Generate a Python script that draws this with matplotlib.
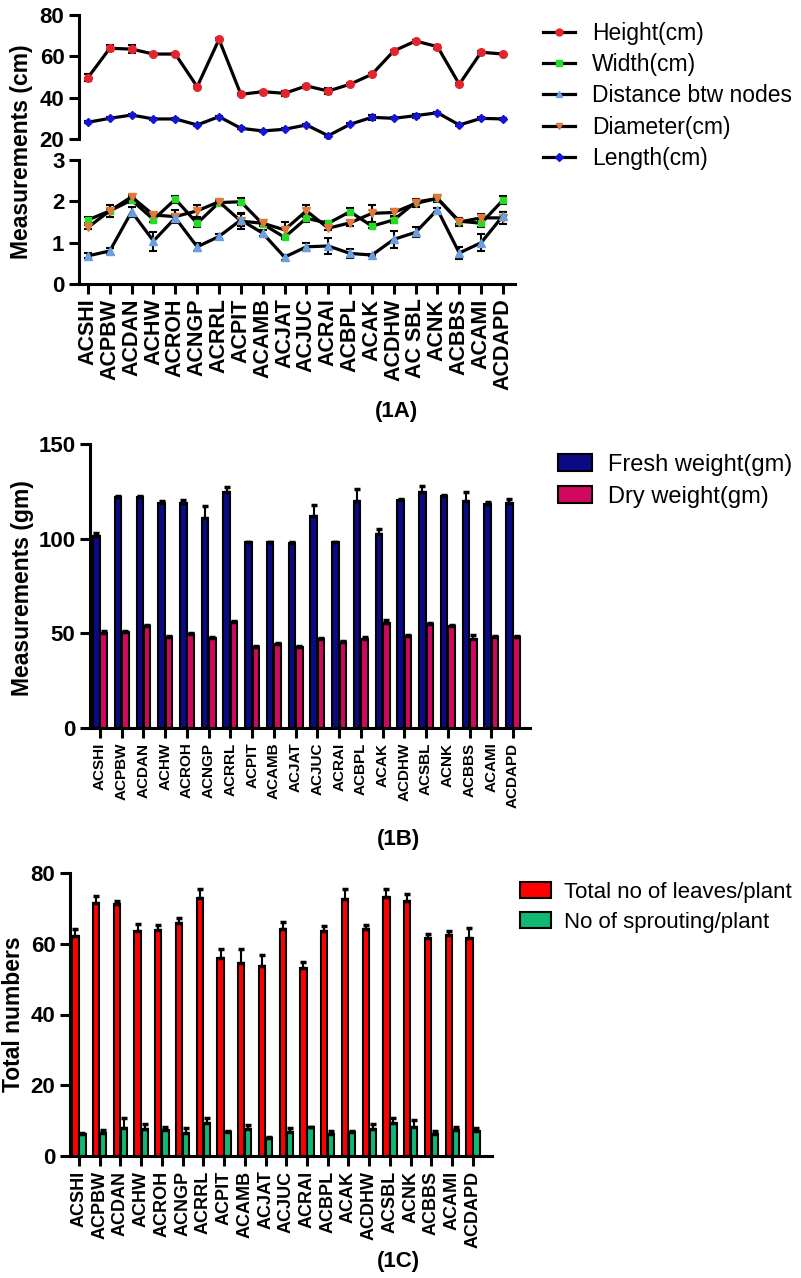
import matplotlib
matplotlib.use("Agg")
import matplotlib.pyplot as plt
import numpy as np
from matplotlib.lines import Line2D
from matplotlib.patches import Patch

plt.rcParams['font.family'] = ['Liberation Sans', 'DejaVu Sans']

# ---- data ----
labels_a = ['ACSHI', 'ACPBW', 'ACDAN', 'ACHW', 'ACROH', 'ACNGP', 'ACRRL', 'ACPIT', 'ACAMB', 'ACJAT',
            'ACJUC', 'ACRAI', 'ACBPL', 'ACAK', 'ACDHW', 'AC SBL', 'ACNK', 'ACBBS', 'ACAMI', 'ACDAPD']
labels_bc = ['ACSHI', 'ACPBW', 'ACDAN', 'ACHW', 'ACROH', 'ACNGP', 'ACRRL', 'ACPIT', 'ACAMB', 'ACJAT',
             'ACJUC', 'ACRAI', 'ACBPL', 'ACAK', 'ACDHW', 'ACSBL', 'ACNK', 'ACBBS', 'ACAMI', 'ACDAPD']

height = [49.7, 63.9, 63.5, 61.1, 61.1, 45.3, 68.2, 41.6, 42.9, 42.1,
          45.7, 43.2, 46.5, 51.3, 62.6, 67.4, 64.7, 46.5, 62.0, 61.1]
height_err = [1.8, 1.5, 1.8, 0.5, 0.5, 0.5, 0.5, 0.5, 0.5, 1.2,
              0.5, 1.3, 0.5, 0.5, 0.5, 0.5, 1.0, 0.5, 0.5, 0.5]
length = [28.1, 30.0, 31.6, 29.7, 29.7, 26.8, 30.8, 25.2, 23.9, 24.7,
          26.8, 21.6, 27.1, 30.5, 30.0, 31.3, 32.7, 26.8, 30.0, 29.7]
length_err = [0.5, 0.5, 0.5, 0.5, 0.5, 0.5, 0.5, 0.5, 0.5, 0.5,
              0.5, 0.5, 0.5, 1.2, 0.5, 1.0, 0.5, 0.5, 0.5, 0.5]
width = [1.55, 1.77, 2.03, 1.56, 2.05, 1.47, 1.97, 1.99, 1.45, 1.13,
         1.59, 1.47, 1.75, 1.40, 1.55, 1.98, 2.07, 1.52, 1.47, 2.03]
width_err = [0.08, 0.05, 0.08, 0.06, 0.08, 0.10, 0.05, 0.08, 0.05, 0.05,
             0.08, 0.05, 0.08, 0.05, 0.08, 0.08, 0.06, 0.08, 0.08, 0.10]
diameter = [1.37, 1.77, 2.11, 1.67, 1.63, 1.77, 1.99, 1.52, 1.47, 1.31,
            1.77, 1.35, 1.48, 1.71, 1.73, 1.95, 2.07, 1.50, 1.60, 1.60]
diameter_err = [0.05, 0.15, 0.05, 0.05, 0.15, 0.15, 0.05, 0.20, 0.05, 0.18,
                0.15, 0.05, 0.08, 0.20, 0.08, 0.08, 0.08, 0.10, 0.10, 0.15]
distance = [0.68, 0.80, 1.75, 1.04, 1.60, 0.90, 1.15, 1.55, 1.23, 0.65,
            0.90, 0.92, 0.74, 0.70, 1.08, 1.25, 1.80, 0.75, 1.00, 1.65]
distance_err = [0.06, 0.08, 0.12, 0.23, 0.10, 0.10, 0.06, 0.15, 0.08, 0.06,
                0.10, 0.20, 0.10, 0.03, 0.20, 0.12, 0.05, 0.15, 0.20, 0.10]

fresh = [101.4, 122.2, 122.2, 119.0, 118.7, 111.1, 124.5, 98.1, 98.1, 97.7,
         112.0, 98.1, 120.1, 102.3, 120.4, 124.8, 122.7, 119.9, 118.3, 118.7]
fresh_err = [1.5, 0.5, 0.5, 1.0, 1.5, 6.0, 3.0, 0.3, 0.3, 0.8,
             6.0, 0.3, 6.0, 3.0, 0.5, 3.0, 0.5, 5.0, 1.0, 2.0]
dry = [50.0, 50.9, 53.9, 48.2, 49.7, 47.3, 56.0, 43.0, 44.2, 42.6,
       47.0, 45.4, 46.8, 55.3, 48.8, 54.7, 54.1, 47.0, 48.2, 48.2]
dry_err = [1.0, 0.5, 0.5, 0.5, 0.5, 0.5, 0.5, 0.5, 0.5, 0.5,
           0.5, 0.5, 1.5, 1.5, 0.5, 0.5, 0.5, 2.0, 0.5, 0.5]

leaves = [62.2, 71.6, 71.1, 63.6, 63.9, 65.8, 72.8, 55.9, 54.5, 53.8,
          64.2, 53.2, 63.6, 72.6, 64.2, 73.1, 72.1, 61.7, 62.5, 61.5]
leaves_err = [2.0, 2.0, 1.0, 2.0, 1.5, 1.5, 2.8, 2.5, 4.0, 3.0,
              2.0, 1.5, 1.5, 3.0, 1.0, 2.5, 2.0, 1.0, 1.0, 3.0]
sprout = [6.1, 6.4, 7.8, 7.6, 7.3, 6.6, 9.2, 6.9, 7.6, 5.0,
          6.7, 8.1, 6.2, 6.9, 7.6, 9.2, 8.3, 6.2, 7.3, 7.1]
sprout_err = [0.3, 1.0, 3.0, 1.5, 0.8, 1.2, 1.5, 0.3, 1.2, 0.3,
              1.2, 0.0, 1.0, 0.3, 1.5, 1.5, 1.8, 1.0, 1.0, 0.8]

W, H = 801, 1278
fig = plt.figure(figsize=(W / 100, H / 100), dpi=100)


def rect(l, t, r, b):
    return [l / W, 1 - b / H, (r - l) / W, (b - t) / H]


def style(ax, fs):
    for s in ['top', 'right']:
        ax.spines[s].set_visible(False)
    for s in ['left', 'bottom']:
        ax.spines[s].set_linewidth(2.2)
    ax.tick_params(direction='out', length=7, width=2.2, labelsize=fs)
    for t in ax.get_yticklabels():
        t.set_fontweight('bold')


x = np.arange(20)

# ---- 1A ----
ax_t = fig.add_axes(rect(79, 15, 515, 139))
ax_b = fig.add_axes(rect(79, 160, 515, 284))
ln = dict(color='black', lw=2.3, capsize=3, elinewidth=1.5, ecolor='black', capthick=1.5)
ax_t.errorbar(x, height, yerr=height_err, marker='o', ms=5.5, mfc='#e3262d', mec='#e3262d', **ln)
ax_t.errorbar(x, length, yerr=length_err, marker='D', ms=4.5, mfc='#1515d8', mec='#1515d8', **ln)
ax_b.errorbar(x, width, yerr=width_err, marker='s', ms=5, mfc='#22dd22', mec='#22dd22', **ln)
ax_b.errorbar(x, diameter, yerr=diameter_err, marker='v', ms=5.5, mfc='#e0793a', mec='#e0793a', **ln)
ax_b.errorbar(x, distance, yerr=distance_err, marker='^', ms=5.5, mfc='#6b9fe0', mec='#6b9fe0', **ln)

ax_t.set_ylim(20, 80)
ax_t.set_yticks([20, 40, 60, 80])
ax_t.set_xlim(-0.41, 19.55)
ax_t.spines['bottom'].set_visible(False)
ax_t.set_xticks([])
style(ax_t, 16)
ax_b.set_ylim(0, 3)
ax_b.set_yticks([0, 1, 2, 3])
ax_b.set_xlim(-0.41, 19.55)
ax_b.set_xticks(x)
ax_b.set_xticklabels(labels_a, rotation=90, fontweight='bold')
style(ax_b, 16)
ax_b.tick_params(axis='x', labelsize=15.5)
fig.text(22 / W, 1 - 152 / H, 'Measurements (cm)', rotation=90, ha='center', va='center',
         fontsize=16.5, fontweight='bold')

leg_a = [Line2D([], [], color='black', lw=2.3, marker='o', ms=5, mfc='#e3262d', mec='#e3262d'),
         Line2D([], [], color='black', lw=2.3, marker='s', ms=5, mfc='#22dd22', mec='#22dd22'),
         Line2D([], [], color='black', lw=2.3, marker='^', ms=5, mfc='#6b9fe0', mec='#6b9fe0'),
         Line2D([], [], color='black', lw=2.3, marker='v', ms=5, mfc='#e0793a', mec='#e0793a'),
         Line2D([], [], color='black', lw=2.3, marker='D', ms=4, mfc='#1515d8', mec='#1515d8')]
fig.legend(leg_a, ['Height(cm)', 'Width(cm)', 'Distance btw nodes', 'Diameter(cm)', 'Length(cm)'],
           loc='upper left', bbox_to_anchor=(543 / W, 1 - 22 / H), frameon=False, borderpad=0,
           borderaxespad=0, handlelength=1.4, handletextpad=0.75, labelspacing=0.36, fontsize=16.5)
fig.text(397 / W, 1 - 411 / H, '(1A)', ha='center', va='center', fontsize=16, fontweight='bold')

# ---- 1B ----
ax2 = fig.add_axes(rect(90, 444, 530, 728))
bw = 0.3
eb = dict(fmt='none', ecolor='black', elinewidth=1.5, capsize=2.5, capthick=2.5)
ax2.bar(x - bw / 2 - 0.02, fresh, bw, color='#0a0a84', edgecolor='black', lw=1.5)
ax2.bar(x + bw / 2 + 0.02, dry, bw, color='#d0085e', edgecolor='black', lw=1.5)
ax2.errorbar(x - bw / 2 - 0.02, fresh, yerr=[np.zeros(20), fresh_err], **eb)
ax2.errorbar(x + bw / 2 + 0.02, dry, yerr=[np.zeros(20), dry_err], **eb)
ax2.set_ylim(0, 150)
ax2.set_yticks([0, 50, 100, 150])
ax2.set_xlim(-0.46, 19.78)
ax2.set_xticks(x)
ax2.set_xticklabels(labels_bc, rotation=90, fontweight='bold')
style(ax2, 16)
ax2.tick_params(axis='x', labelsize=11)
fig.text(23 / W, 1 - 588 / H, 'Measurements (gm)', rotation=90, ha='center', va='center',
         fontsize=16.5, fontweight='bold')
ax2.legend([Patch(facecolor='#0a0a84', edgecolor='black', lw=1.5),
            Patch(facecolor='#d0085e', edgecolor='black', lw=1.5)],
           ['Fresh weight(gm)', 'Dry weight(gm)'],
           loc='upper left', bbox_to_anchor=(558 / W, 1 - 454 / H), bbox_transform=fig.transFigure,
           frameon=False, borderpad=0, borderaxespad=0, handlelength=1.45, handleheight=0.7,
           handletextpad=0.68, labelspacing=0.42, fontsize=17)
fig.text(398 / W, 1 - 840 / H, '(1B)', ha='center', va='center', fontsize=16, fontweight='bold')

# ---- 1C ----
ax3 = fig.add_axes(rect(70, 873, 492, 1156))
ax3.bar(x - bw / 2 - 0.02, leaves, bw, color='#ff0000', edgecolor='black', lw=1.5)
ax3.bar(x + bw / 2 + 0.02, sprout, bw, color='#10b872', edgecolor='black', lw=1.5)
ax3.errorbar(x - bw / 2 - 0.02, leaves, yerr=[np.zeros(20), leaves_err], **eb)
ax3.errorbar(x + bw / 2 + 0.02, sprout, yerr=[np.zeros(20), sprout_err], **eb)
ax3.set_ylim(0, 80)
ax3.set_yticks([0, 20, 40, 60, 80])
ax3.set_xlim(-0.43, 19.92)
ax3.set_xticks(x)
ax3.set_xticklabels(labels_bc, rotation=90, fontweight='bold')
style(ax3, 16)
ax3.tick_params(axis='x', labelsize=13)
fig.text(14 / W, 1 - 1014 / H, 'Total numbers', rotation=90, ha='center', va='center',
         fontsize=16.5, fontweight='bold')
ax3.legend([Patch(facecolor='#ff0000', edgecolor='black', lw=1.5),
            Patch(facecolor='#10b872', edgecolor='black', lw=1.5)],
           ['Total no of leaves/plant', 'No of sprouting/plant'],
           loc='upper left', bbox_to_anchor=(520 / W, 1 - 882 / H), bbox_transform=fig.transFigure,
           frameon=False, borderpad=0, borderaxespad=0, handlelength=1.4, handleheight=0.7,
           handletextpad=0.6, labelspacing=0.4, fontsize=16)
fig.text(398 / W, 1 - 1262 / H, '(1C)', ha='center', va='center', fontsize=16, fontweight='bold')

fig.savefig('out.png', dpi=100)
